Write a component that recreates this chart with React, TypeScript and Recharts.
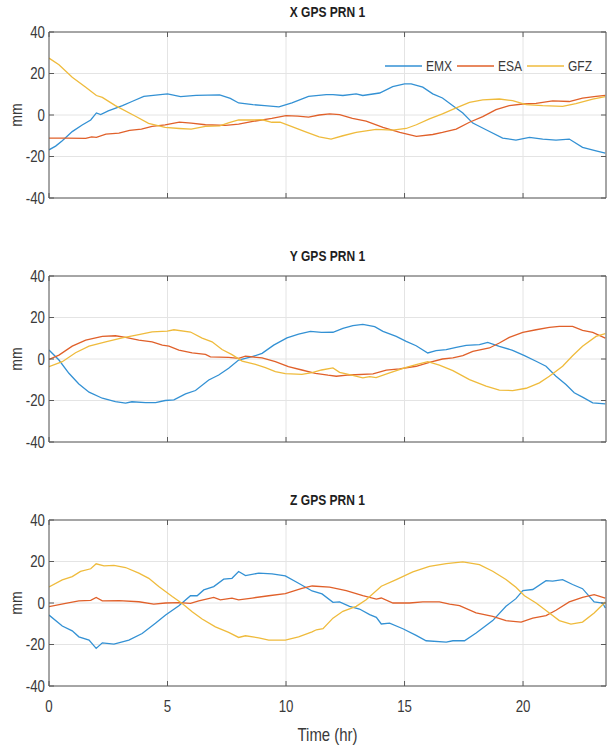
import React from "react";
import { LineChart, Line, XAxis, YAxis, CartesianGrid, Legend } from "recharts";

type P = [number, number];

const X_TICKS = [0, 5, 10, 15, 20];
const Y_TICKS = [-40, -20, 0, 20, 40];
const SERIES_NAMES = ["EMX", "ESA", "GFZ"];
const PANEL_TITLES = ["X GPS PRN 1", "Y GPS PRN 1", "Z GPS PRN 1"];

const X_EMX: P[] = [[0,-16.8],[0.28,-15],[0.56,-12.4],[0.98,-8],[1.4,-4.8],[1.76,-2.4],[2.0,1],[2.18,0.2],[2.5,2],[3.1,4.5],[3.5,6.5],[4.0,9],[5.0,10.2],[5.55,8.9],[6.2,9.5],[7.2,9.7],[7.65,8],[8.0,5.8],[8.6,5],[9.1,4.5],[9.7,3.9],[10.25,5.8],[10.95,9],[11.7,9.8],[11.98,9.8],[12.4,9.4],[12.96,10.2],[13.24,9.4],[13.95,10.6],[14.5,13.7],[15.0,15],[15.28,15],[15.77,13.4],[16.19,10.2],[16.6,8.2],[17.04,4.5],[17.46,1],[17.88,-3.9],[18.44,-7.1],[19.14,-11.1],[19.7,-12.1],[20.27,-10.8],[20.83,-11.6],[21.39,-12.1],[21.95,-11.6],[22.51,-15.6],[23.08,-17.3],[23.47,-18.4]];
const X_ESA: P[] = [[0,-11.1],[0.7,-11.1],[1.55,-11.3],[1.8,-10.5],[2.0,-10.8],[2.4,-9.2],[2.95,-8.7],[3.4,-7.4],[3.9,-6.8],[4.35,-5.5],[4.9,-4.8],[5.5,-3.4],[6.0,-3.9],[6.6,-4.7],[7.45,-5],[8.0,-4.4],[8.6,-3.1],[9.4,-1.6],[10.0,-0.3],[10.5,-0.5],[10.95,-1],[11.4,0],[11.84,0.5],[12.26,0.2],[12.8,-1.6],[13.38,-2.9],[14.09,-6],[14.8,-8.4],[15.5,-10.3],[16.19,-9.4],[16.6,-8.4],[17.18,-6.8],[17.74,-3.5],[18.3,-0.8],[18.86,2.6],[19.42,4.5],[19.99,5.3],[20.55,5.6],[21.25,6.8],[21.95,6.5],[22.51,8.1],[23.08,9],[23.47,9.5]];
const X_GFZ: P[] = [[0,27.4],[0.42,24.2],[0.98,18.2],[1.55,13.4],[2.0,9.4],[2.25,8.5],[2.8,4.5],[3.65,-0.6],[4.2,-4],[4.9,-6],[5.5,-6.5],[6.0,-6.8],[6.6,-5.5],[7.2,-5.2],[7.6,-3.7],[8.0,-2.4],[8.6,-2.4],[9.0,-2.3],[9.4,-3.5],[9.75,-3.5],[10.25,-5.6],[10.8,-8],[11.4,-10.5],[11.9,-11.6],[12.4,-10],[12.96,-8.4],[13.8,-6.9],[14.5,-7.3],[15.07,-6.5],[15.5,-4.7],[16.05,-1.9],[16.6,0.5],[17.18,3.4],[17.74,6.1],[18.3,7.3],[19.0,7.7],[19.56,6.9],[20.13,5],[20.83,4.5],[21.67,4.2],[22.23,5.5],[22.94,7.7],[23.47,8.9]];

const Y_EMX: P[] = [[0,4.3],[0.42,-0.5],[0.84,-6.9],[1.26,-12],[1.69,-16],[2.25,-18.9],[2.8,-20.5],[3.23,-21.3],[3.5,-20.6],[4.07,-21],[4.5,-21],[4.9,-20],[5.27,-19.7],[5.76,-16.8],[6.18,-15.2],[6.74,-10.1],[7.16,-7.7],[7.58,-4.5],[8.0,-0.5],[8.57,1.1],[8.99,2.7],[9.48,6.7],[10.04,10.2],[10.53,12],[11.03,13.3],[11.5,12.8],[11.98,12.9],[12.4,14.8],[12.82,16.1],[13.24,16.7],[13.74,15.6],[14.09,13.3],[14.65,10.9],[15.07,8.5],[15.49,6.4],[15.98,2.9],[16.33,4],[16.76,4.5],[17.18,5.6],[17.6,6.6],[18.16,6.9],[18.51,8],[19.0,6.1],[19.56,4.2],[20.06,1.6],[20.55,-1.1],[20.97,-3.5],[21.39,-8.3],[21.81,-12.3],[22.16,-16.3],[22.51,-18.4],[22.94,-21.1],[23.47,-21.6]];
const Y_ESA: P[] = [[0,-0.2],[0.42,1.9],[0.98,6.2],[1.55,9.1],[2.25,10.9],[2.8,11.2],[3.23,10.4],[3.79,9.1],[4.35,8.3],[4.78,6.7],[5.06,6.2],[5.48,4.3],[6.04,3],[6.6,2.2],[6.81,1],[7.58,0.8],[8.0,0.3],[8.29,1.4],[8.99,0.5],[9.55,-1.3],[10.1,-3.7],[10.67,-5.3],[11.24,-6.9],[11.77,-7.8],[12.12,-8.3],[12.68,-7.7],[13.67,-7.2],[14.23,-5.4],[14.79,-4.8],[15.49,-3.5],[16.05,-1.6],[16.6,0],[17.04,0.5],[17.46,1.6],[17.88,3.7],[18.58,5.3],[19.0,7.7],[19.42,10.4],[19.99,12.8],[20.55,14.1],[21.11,15.2],[21.53,15.7],[22.09,15.7],[22.51,13.8],[22.94,12.8],[23.47,10.1]];
const Y_GFZ: P[] = [[0,-3.7],[0.56,-1.3],[1.12,3],[1.69,6.2],[2.39,8.3],[3.09,10.2],[3.79,11.8],[4.35,13.1],[4.99,13.4],[5.27,14.1],[5.97,13],[6.46,10.1],[6.88,8.3],[7.3,4.6],[7.72,2.1],[8.15,-1],[8.71,-2.6],[9.13,-4.2],[9.55,-6.1],[9.97,-7],[10.67,-7.4],[11.1,-6.6],[11.5,-5.3],[11.98,-4.3],[12.26,-6.4],[12.68,-7.5],[13.24,-9.1],[13.53,-8.5],[13.8,-9],[14.37,-6.7],[15.07,-4],[15.49,-2.7],[15.98,-1.3],[16.47,-3],[17.04,-5.6],[17.74,-9.9],[18.44,-13.1],[19.0,-15],[19.56,-15.2],[20.13,-14.1],[20.69,-11.5],[21.11,-8.3],[21.67,-3.5],[22.09,1.6],[22.51,6.1],[23.08,10.9],[23.47,12.2]];

const Z_EMX: P[] = [[0,-5.8],[0.56,-11.1],[0.98,-13.4],[1.26,-16.3],[1.69,-17.9],[1.99,-21.9],[2.25,-19.2],[2.74,-19.8],[3.37,-17.9],[3.93,-14.7],[4.49,-9.8],[4.92,-5.8],[5.48,-1.3],[5.97,3.5],[6.25,3.5],[6.53,6.3],[6.95,7.9],[7.37,11.5],[7.72,11.9],[8.0,15.2],[8.29,13.2],[8.85,14.4],[9.41,14],[9.97,13.1],[10.53,9.5],[11.1,5.8],[11.52,4.4],[11.98,0.3],[12.26,0.5],[12.68,-1.6],[13.1,-2.9],[13.53,-5.6],[13.81,-6.9],[14.02,-10.1],[14.37,-9.7],[14.93,-12.4],[15.49,-15.6],[15.91,-18.2],[16.76,-18.9],[17.04,-18.2],[17.53,-18.2],[18.02,-14.5],[18.72,-8.5],[19.28,-1.6],[19.7,2.1],[19.99,6],[20.41,6.5],[20.97,10.8],[21.25,10.5],[21.67,11.3],[22.09,8.9],[22.51,6.9],[23.0,0.5],[23.36,0],[23.47,-2.4]];
const Z_ESA: P[] = [[0,-1.8],[0.7,-0.2],[1.26,1],[1.76,1.3],[1.99,2.7],[2.25,1],[2.95,1.1],[3.79,0.6],[4.42,-0.5],[4.92,0],[5.48,0.2],[5.97,-0.2],[6.32,1],[6.95,2.7],[7.23,1.5],[7.72,2.3],[8.0,1.5],[8.57,2.4],[9.27,3.5],[9.97,4.5],[10.67,7.1],[11.1,8.2],[11.84,7.7],[12.54,6],[13.24,3.5],[13.81,1.9],[14.02,2.4],[14.51,0],[15.21,0],[15.77,0.5],[16.47,0.5],[16.9,-0.5],[17.32,-1.3],[18.02,-4.8],[18.72,-6.5],[19.28,-8.5],[19.92,-9.2],[20.41,-7.3],[20.97,-6.1],[21.39,-3.5],[21.95,0.5],[22.51,2.7],[23.0,4],[23.47,2.4]];
const Z_GFZ: P[] = [[0,7.7],[0.56,11.1],[0.98,12.7],[1.33,15.2],[1.76,16.5],[1.99,18.9],[2.32,17.9],[2.74,18.1],[3.23,17.1],[3.79,14.4],[4.21,11.9],[4.63,7.9],[5.2,3.1],[5.62,-0.2],[6.04,-4.2],[6.46,-7.7],[7.02,-11.5],[7.58,-14.2],[8.0,-16.6],[8.29,-15.8],[8.85,-16.8],[9.27,-17.9],[9.97,-17.9],[10.53,-16.3],[11.1,-13.9],[11.28,-12.9],[11.56,-12.4],[11.98,-7.3],[12.4,-4],[12.96,-1.6],[13.38,1.6],[14.02,8.1],[14.65,11.3],[15.35,15],[16.05,17.7],[16.76,19],[17.46,19.8],[18.16,18.5],[18.72,15.3],[19.28,11.3],[19.7,7.6],[20.06,3.5],[20.55,0],[21.11,-4.8],[21.53,-8.5],[22.02,-10.2],[22.51,-9.2],[23.0,-4.8],[23.47,0.5]];

const COLORS = ["#3391d4", "#e0602a", "#efbb3c"];
const FONT = "'Liberation Sans', Arial, sans-serif";
const AXIS = "#5a5a5a";
const TEXT = "#3a3a3a";
const SX = 0.83;

const toRows = (pts: P[]) => pts.map(([t, v]) => ({ t, v }));

const PANELS: P[][][] = [
  [X_EMX, X_ESA, X_GFZ],
  [Y_EMX, Y_ESA, Y_GFZ],
  [Z_EMX, Z_ESA, Z_GFZ],
];

function NText(props: { x: number; y: number; anchor?: string; size: number; weight?: string; fill?: string; rotate?: number; children: any }) {
  const { x, y, anchor = "start", size, weight = "normal", fill = TEXT, rotate = 0, children } = props;
  return (
    <g transform={`translate(${x},${y}) rotate(${rotate}) scale(${SX},1)`}>
      <text x={0} y={0} textAnchor={anchor as any} fontFamily={FONT} fontSize={size} fontWeight={weight} fill={fill}>
        {children}
      </text>
    </g>
  );
}

const LEGEND_OFFSETS = [0, 72, 142];

const LegendContent = (props: any) => {
  const payload = props.payload || [];
  return (
    <svg width={222} height={16} style={{ display: "block" }}>
      {payload.map((p: any, i: number) => (
        <g key={p.value}>
          <line x1={LEGEND_OFFSETS[i]} x2={LEGEND_OFFSETS[i] + 37} y1={8} y2={8} stroke={p.color} strokeWidth={1.3} />
          <NText x={LEGEND_OFFSETS[i] + 41} y={13} size={14.5}>{p.value}</NText>
        </g>
      ))}
    </svg>
  );
};

function Panel({ idx, height, last }: { idx: number; height: number; last: boolean }) {
  const series = PANELS[idx];
  const plotH = 166;
  const top = 32;
  const bottom = height - top - plotH;
  const bottomTick = (p: any) => (
    <g>
      <line x1={p.x} x2={p.x} y1={p.y} y2={p.y - 5} stroke={AXIS} strokeWidth={1} />
      {last && (
        <NText x={p.x} y={p.y + 26} anchor="middle" size={16}>
          {p.payload.value}
        </NText>
      )}
    </g>
  );
  const topTick = (p: any) => (
    <line x1={p.x} x2={p.x} y1={p.y} y2={p.y + 5} stroke={AXIS} strokeWidth={1} />
  );
  const leftTick = (p: any) => (
    <g>
      <line x1={p.x} x2={p.x + 5} y1={p.y} y2={p.y} stroke={AXIS} strokeWidth={1} />
      <NText x={p.x - 4} y={p.y + 5.5} anchor="end" size={16}>
        {p.payload.value}
      </NText>
    </g>
  );
  const rightTick = (p: any) => (
    <line x1={p.x} x2={p.x - 5} y1={p.y} y2={p.y} stroke={AXIS} strokeWidth={1} />
  );
  const titleLabel = (p: any) => {
    const vb = p.viewBox || { x: 49, y: 31, width: 557, height: 1 };
    return (
      <NText x={vb.x + vb.width / 2} y={vb.y + vb.height - 15} anchor="middle" size={14.5} weight="bold" fill="#1e1e1e">
        {PANEL_TITLES[idx]}
      </NText>
    );
  };
  const mmLabel = (p: any) => {
    const vb = p.viewBox || { x: 0, y: 32, width: 49, height: 166 };
    const cx = vb.x + 22;
    const cy = vb.y + vb.height / 2;
    return (
      <NText x={cx} y={cy} anchor="middle" size={17} rotate={-90}>
        mm
      </NText>
    );
  };
  const timeLabel = (p: any) => {
    const vb = p.viewBox || { x: 49, y: 198, width: 557 };
    return (
      <NText x={vb.x + vb.width / 2} y={vb.y + 55} anchor="middle" size={18}>
        Time (hr)
      </NText>
    );
  };
  return (
    <LineChart width={608} height={height} margin={{ top: top - 1, right: 1, left: 0, bottom: bottom - 1 }}>
      <CartesianGrid stroke="#e4e4e4" strokeWidth={1} />
      <XAxis
        dataKey="t"
        type="number"
        domain={[0, 23.5]}
        ticks={X_TICKS}
        interval={0}
        allowDataOverflow
        height={1}
        tickSize={0}
        tickMargin={0}
        tickLine={false}
        axisLine={{ stroke: AXIS, strokeWidth: 1 }}
        tick={bottomTick}
        label={last ? timeLabel : undefined}
      />
      <XAxis
        xAxisId="top"
        orientation="top"
        dataKey="t"
        type="number"
        domain={[0, 23.5]}
        ticks={X_TICKS}
        interval={0}
        allowDataOverflow
        height={1}
        tickSize={0}
        tickMargin={0}
        tickLine={false}
        axisLine={{ stroke: AXIS, strokeWidth: 1 }}
        tick={topTick}
        label={titleLabel}
      />
      <YAxis
        type="number"
        domain={[-40, 40]}
        ticks={Y_TICKS}
        interval={0}
        allowDataOverflow
        width={49}
        tickSize={0}
        tickMargin={0}
        tickLine={false}
        axisLine={{ stroke: AXIS, strokeWidth: 1 }}
        tick={leftTick}
        label={mmLabel}
      />
      <YAxis
        yAxisId="right"
        orientation="right"
        type="number"
        domain={[-40, 40]}
        ticks={Y_TICKS}
        interval={0}
        allowDataOverflow
        width={1}
        tickSize={0}
        tickMargin={0}
        tickLine={false}
        axisLine={{ stroke: AXIS, strokeWidth: 1 }}
        tick={rightTick}
      />
      {series.map((pts, i) => (
        <Line
          key={SERIES_NAMES[i]}
          name={SERIES_NAMES[i]}
          data={toRows(pts)}
          dataKey="v"
          type="linear"
          stroke={COLORS[i]}
          strokeWidth={1.3}
          dot={false}
          activeDot={false}
          isAnimationActive={false}
        />
      ))}
      {idx === 0 && (
        <Legend
          layout="horizontal"
          verticalAlign="middle"
          align="center"
          content={<LegendContent />}
          wrapperStyle={{ position: "absolute", top: 58, left: 385, width: 222, height: 16 }}
        />
      )}
    </LineChart>
  );
}

export default function App() {
  return (
    <div style={{ position: "absolute", left: 0, top: 0, width: 608, height: 747, background: "#fff" }}>
      <div style={{ position: "absolute", left: 0, top: 0 }}>
        <Panel idx={0} height={244} last={false} />
      </div>
      <div style={{ position: "absolute", left: 0, top: 244 }}>
        <Panel idx={1} height={244} last={false} />
      </div>
      <div style={{ position: "absolute", left: 0, top: 488 }}>
        <Panel idx={2} height={259} last={true} />
      </div>
    </div>
  );
}
